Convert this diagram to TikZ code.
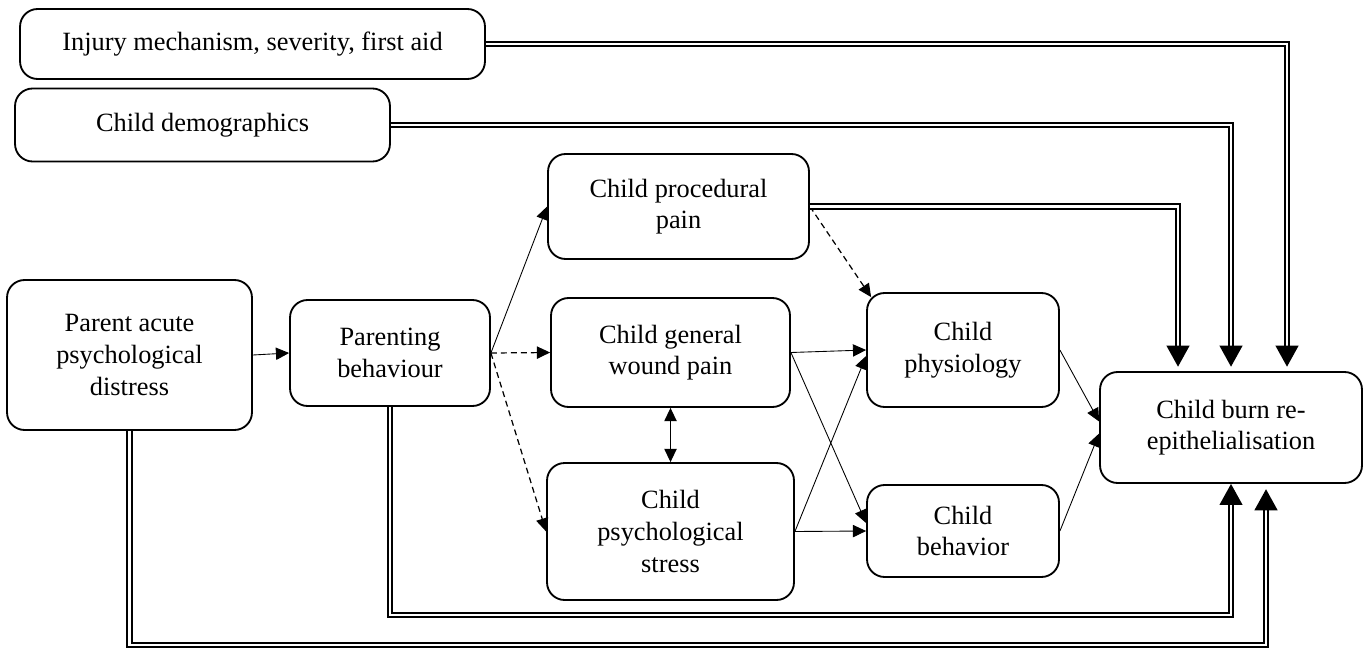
\documentclass[tikz,border=0pt]{standalone}
\usepackage{fontspec}
\setmainfont{Liberation Serif}
\usetikzlibrary{positioning,arrows.meta,calc}
\newcommand{\boxfont}{\fontsize{15}{18}\selectfont}
\tikzset{
  factor/.style  = {rectangle, rounded corners=10pt, draw=black, line width=1.05pt,
                    align=center, inner sep=0pt, font=\boxfont},
  flow/.style    = {-{Triangle[length=7.5pt,width=7pt]}, line width=0.5pt, draw=black},
  dflow/.style   = {flow, line width=0.7pt, dash pattern=on 3.4pt off 2.3pt},
  mutual/.style  = {{Triangle[length=7.5pt,width=7pt]}-{Triangle[length=7.5pt,width=7pt]}, line width=0.6pt},
  direct/.style  = {double, double distance=1.5pt, line width=1pt,
                    -{Triangle[length=12pt,width=13pt]}},
}

\begin{document}
\begin{tikzpicture}[x=0.02cm, y=-0.02cm]
  \useasboundingbox (0,0) rectangle (1368,648);

  % covariates
  \node[factor, minimum width=9.3cm, minimum height=1.4cm]  (injury) at (252.5,44)  {Injury mechanism, severity, first aid};
  \node[factor, minimum width=7.5cm, minimum height=1.46cm] (demog)  at (202.5,125) {Child demographics};

  % main pathway
  \node[factor, minimum width=4.9cm,  minimum height=3.0cm]  (parent) at (129.5,355) {Parent acute\\psychological\\distress};
  \node[factor, minimum width=4.0cm,  minimum height=2.12cm] (pbeh)   at (390,353)   {Parenting\\behaviour};
  \node[factor, minimum width=5.22cm, minimum height=2.1cm]  (proc)   at (678.5,206.5) {Child procedural\\pain};
  \node[factor, minimum width=4.78cm, minimum height=2.18cm] (wound)  at (670.5,352.5) {Child general\\wound pain};
  \node[factor, minimum width=4.94cm, minimum height=2.74cm] (stress) at (670.5,531.5) {Child\\psychological\\stress};
  \node[factor, minimum width=3.84cm, minimum height=2.28cm] (physio) at (963,350)   {Child\\physiology};
  \node[factor, minimum width=3.84cm, minimum height=1.84cm] (behav)  at (963,531)   {Child\\behavior};
  \node[factor, minimum width=5.24cm, minimum height=2.22cm] (burn)   at (1231,427.5) {Child burn re-\\epithelialisation};

  \coordinate (low1) at (0,615);
  \coordinate (low2) at (0,645);

  \draw[flow]  (parent.east) -- (pbeh.west);
  \draw[flow]  (pbeh.east) -- (proc.west);
  \draw[dflow] (pbeh.east) -- (wound.west);
  \draw[dflow] (pbeh.east) -- (stress.west);
  \draw[dflow] (proc.east) -- ($(physio.north west)+(5,5)$);
  \draw[mutual] (wound.south) -- (stress.north);

  \draw[flow] (wound.east) -- (physio.west);
  \draw[flow] (wound.east) -- ($(behav.west)+(0,-8)$);
  \draw[flow] (stress.east) -- ($(physio.west)+(0,6)$);
  \draw[flow] (stress.east) -- (behav.west);
  \draw[flow] (physio.east) -- ($(burn.west)+(0,-6)$);
  \draw[flow] (behav.east) -- ($(burn.west)+(0,6)$);

  % direct effects on healing
  \draw[direct, shorten >=2.5pt] (injury.east) -| ($(burn.north)+(56,0)$);
  \draw[direct, shorten >=2.5pt] (demog.east) -| (burn.north);
  \draw[direct, shorten >=2.5pt] (proc.east) -| ($(burn.north)+(-53,0)$);
  \draw[direct] (pbeh.south) -- (pbeh.south |- low1) -| (burn.south);
  \draw[direct, shorten >=3pt] (parent.south) -- (parent.south |- low2) -| ($(burn.south)+(35,0)$);
\end{tikzpicture}
\end{document}
